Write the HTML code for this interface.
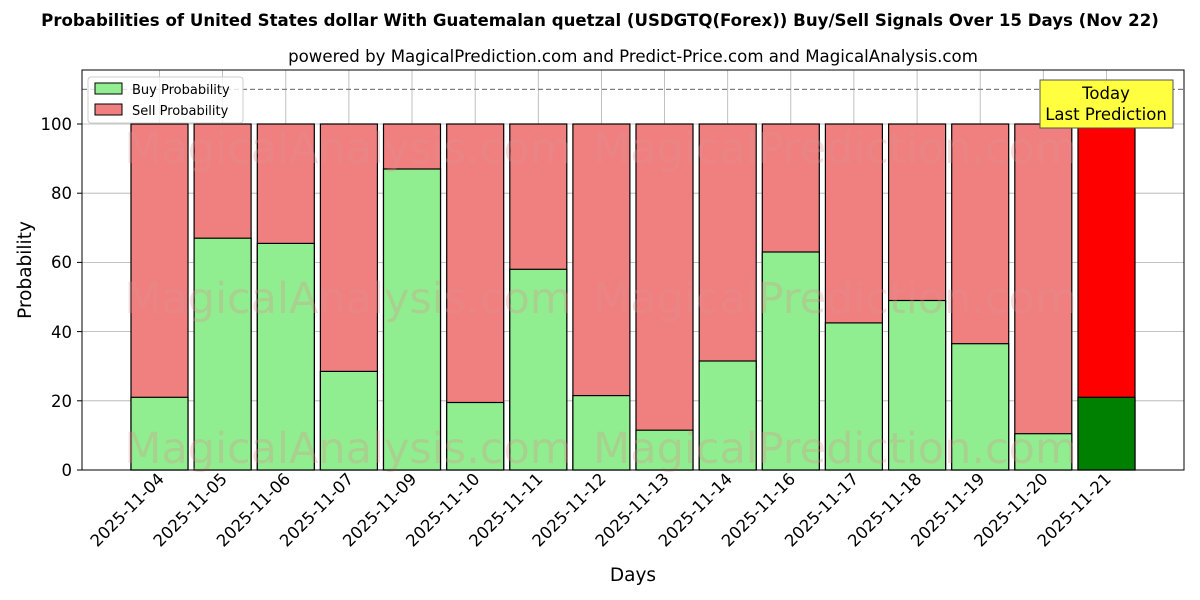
<!DOCTYPE html>
<html><head><meta charset="utf-8"><style>body{margin:0;background:#fff}svg{display:block}text{font-family:"DejaVu Sans","Liberation Sans",sans-serif}</style></head><body>
<svg width="1200" height="600" xmlns="http://www.w3.org/2000/svg">
<text x="600" y="26" text-anchor="middle" font-size="16.6" font-weight="bold">Probabilities of United States dollar With Guatemalan quetzal (USDGTQ(Forex)) Buy/Sell Signals Over 15 Days (Nov 22)</text>
<text x="633" y="62" text-anchor="middle" font-size="16.6">powered by MagicalPrediction.com and Predict-Price.com and MagicalAnalysis.com</text>
<g stroke="#b0b0b0" stroke-width="0.8">
<line x1="82" x2="1184" y1="470" y2="470"/><line x1="82" x2="1184" y1="400.8" y2="400.8"/><line x1="82" x2="1184" y1="331.6" y2="331.6"/><line x1="82" x2="1184" y1="262.4" y2="262.4"/><line x1="82" x2="1184" y1="193.2" y2="193.2"/><line x1="82" x2="1184" y1="124" y2="124"/>
<line x1="159.5" x2="159.5" y1="70" y2="470"/><line x1="222.6" x2="222.6" y1="70" y2="470"/><line x1="285.8" x2="285.8" y1="70" y2="470"/><line x1="348.9" x2="348.9" y1="70" y2="470"/><line x1="412" x2="412" y1="70" y2="470"/><line x1="475.2" x2="475.2" y1="70" y2="470"/><line x1="538.3" x2="538.3" y1="70" y2="470"/><line x1="601.4" x2="601.4" y1="70" y2="470"/><line x1="664.5" x2="664.5" y1="70" y2="470"/><line x1="727.7" x2="727.7" y1="70" y2="470"/><line x1="790.8" x2="790.8" y1="70" y2="470"/><line x1="853.9" x2="853.9" y1="70" y2="470"/><line x1="917.1" x2="917.1" y1="70" y2="470"/><line x1="980.2" x2="980.2" y1="70" y2="470"/><line x1="1043.3" x2="1043.3" y1="70" y2="470"/><line x1="1106.5" x2="1106.5" y1="70" y2="470"/>
</g>
<g stroke="#000" stroke-width="1.2" fill="#f08080">
<rect x="131" y="124" width="57" height="346"/><rect x="194.1" y="124" width="57" height="346"/><rect x="257.3" y="124" width="57" height="346"/><rect x="320.4" y="124" width="57" height="346"/><rect x="383.5" y="124" width="57" height="346"/><rect x="446.7" y="124" width="57" height="346"/><rect x="509.8" y="124" width="57" height="346"/><rect x="572.9" y="124" width="57" height="346"/><rect x="636" y="124" width="57" height="346"/><rect x="699.2" y="124" width="57" height="346"/><rect x="762.3" y="124" width="57" height="346"/><rect x="825.4" y="124" width="57" height="346"/><rect x="888.6" y="124" width="57" height="346"/><rect x="951.7" y="124" width="57" height="346"/><rect x="1014.8" y="124" width="57" height="346"/><rect x="1078" y="124" width="57" height="346" fill="#ff0000"/>
</g>
<g stroke="#000" stroke-width="1.2" fill="#90ee90">
<rect x="131" y="397.3" width="57" height="72.7"/><rect x="194.1" y="238.2" width="57" height="231.8"/><rect x="257.3" y="243.4" width="57" height="226.6"/><rect x="320.4" y="371.4" width="57" height="98.6"/><rect x="383.5" y="169" width="57" height="301"/><rect x="446.7" y="402.5" width="57" height="67.5"/><rect x="509.8" y="269.3" width="57" height="200.7"/><rect x="572.9" y="395.6" width="57" height="74.4"/><rect x="636" y="430.2" width="57" height="39.8"/><rect x="699.2" y="361" width="57" height="109"/><rect x="762.3" y="252" width="57" height="218"/><rect x="825.4" y="322.9" width="57" height="147.1"/><rect x="888.6" y="300.5" width="57" height="169.5"/><rect x="951.7" y="343.7" width="57" height="126.3"/><rect x="1014.8" y="433.7" width="57" height="36.3"/><rect x="1078" y="397.3" width="57" height="72.7" fill="#008000"/>
</g>
<g font-size="43" fill="#e09090" opacity="0.3" text-anchor="middle">
<text x="348" y="163">MagicalAnalysis.com</text><text x="835" y="163">MagicalPrediction.com</text>
<text x="348" y="313">MagicalAnalysis.com</text><text x="835" y="313">MagicalPrediction.com</text>
<text x="348" y="463">MagicalAnalysis.com</text><text x="835" y="463">MagicalPrediction.com</text>
</g>
<line x1="82" x2="1184" y1="89.4" y2="89.4" stroke="#808080" stroke-dasharray="5,3" stroke-width="1.2"/>
<rect x="82" y="70" width="1102" height="400" fill="none" stroke="#000" stroke-width="1"/>
<g stroke="#000">
<line x1="77" x2="82" y1="470" y2="470"/><line x1="77" x2="82" y1="400.8" y2="400.8"/><line x1="77" x2="82" y1="331.6" y2="331.6"/><line x1="77" x2="82" y1="262.4" y2="262.4"/><line x1="77" x2="82" y1="193.2" y2="193.2"/><line x1="77" x2="82" y1="124" y2="124"/>
</g>
<g font-size="16.5" text-anchor="end">
<text x="72" y="476">0</text><text x="72" y="407">20</text><text x="72" y="338">40</text><text x="72" y="268">60</text><text x="72" y="199">80</text><text x="72" y="130">100</text>
</g>
<g font-size="16.5" text-anchor="end">
<text transform="translate(165,480) rotate(-45)">2025-11-04</text>
<text transform="translate(228.1,480) rotate(-45)">2025-11-05</text>
<text transform="translate(291.3,480) rotate(-45)">2025-11-06</text>
<text transform="translate(354.4,480) rotate(-45)">2025-11-07</text>
<text transform="translate(417.5,480) rotate(-45)">2025-11-09</text>
<text transform="translate(480.7,480) rotate(-45)">2025-11-10</text>
<text transform="translate(543.8,480) rotate(-45)">2025-11-11</text>
<text transform="translate(606.9,480) rotate(-45)">2025-11-12</text>
<text transform="translate(670,480) rotate(-45)">2025-11-13</text>
<text transform="translate(733.2,480) rotate(-45)">2025-11-14</text>
<text transform="translate(796.3,480) rotate(-45)">2025-11-16</text>
<text transform="translate(859.4,480) rotate(-45)">2025-11-17</text>
<text transform="translate(922.6,480) rotate(-45)">2025-11-18</text>
<text transform="translate(985.7,480) rotate(-45)">2025-11-19</text>
<text transform="translate(1048.8,480) rotate(-45)">2025-11-20</text>
<text transform="translate(1112,480) rotate(-45)">2025-11-21</text>
</g>
<rect x="1040" y="80" width="133" height="48" fill="#ffff40" stroke="#555"/>
<text x="1106" y="99" text-anchor="middle" font-size="16.5">Today</text>
<text x="1106" y="120" text-anchor="middle" font-size="16.5">Last Prediction</text>
<rect x="88" y="77" width="155" height="46" rx="3" fill="#fff" fill-opacity="0.8" stroke="#ccc"/>
<rect x="95" y="83" width="27" height="11" fill="#90ee90" stroke="#000"/><text x="132" y="94" font-size="13">Buy Probability</text>
<rect x="95" y="104" width="27" height="11" fill="#f08080" stroke="#000"/><text x="132" y="115" font-size="13">Sell Probability</text>
<text x="633" y="581" text-anchor="middle" font-size="18.5">Days</text>
<text transform="translate(31,270) rotate(-90)" text-anchor="middle" font-size="18.5">Probability</text>
</svg></body></html>
